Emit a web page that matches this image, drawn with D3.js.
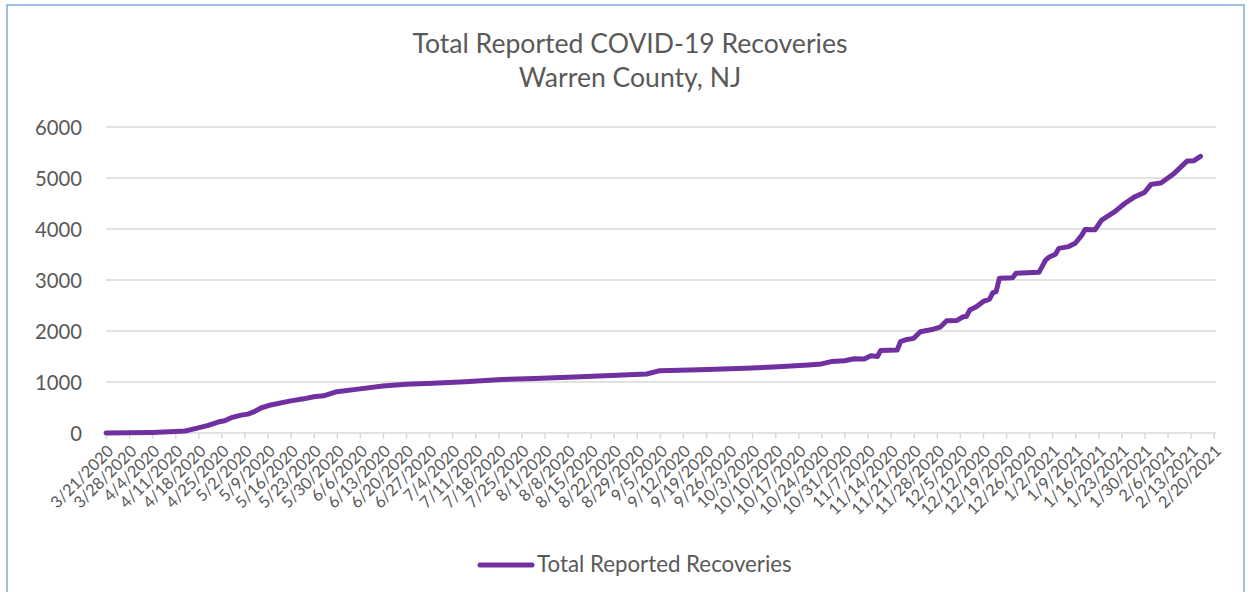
<!DOCTYPE html>
<html>
<head>
<meta charset="utf-8">
<script src="https://cdn.jsdelivr.net/npm/d3@7"></script>
<style>
  html, body { margin: 0; padding: 0; background: #fff; }
  svg { display: block; }
  text { font-family: Lato, "Open Sans", sans-serif; fill: #595959; }
</style>
</head>
<body>
<svg id="chart" width="1251" height="592"></svg>
<script>
// ---- data ----
const titleLines = ["Total Reported COVID-19 Recoveries", "Warren County, NJ"];
const seriesName = "Total Reported Recoveries";
const dates = [
  "2020-03-21","2020-03-28","2020-04-04","2020-04-11","2020-04-14","2020-04-18","2020-04-21","2020-04-24",
  "2020-04-26","2020-04-28","2020-05-01","2020-05-03","2020-05-05","2020-05-07","2020-05-10","2020-05-16",
  "2020-05-20","2020-05-23","2020-05-26","2020-05-30","2020-06-06","2020-06-13","2020-06-20","2020-06-28",
  "2020-07-08","2020-07-19","2020-07-29","2020-08-12","2020-08-23","2020-09-01","2020-09-05","2020-09-17",
  "2020-10-01","2020-10-11","2020-10-20","2020-10-24","2020-10-27","2020-10-31","2020-11-03","2020-11-06",
  "2020-11-08","2020-11-10","2020-11-11","2020-11-16","2020-11-17","2020-11-19","2020-11-21","2020-11-23",
  "2020-11-27","2020-11-29","2020-12-01","2020-12-04","2020-12-06","2020-12-07","2020-12-08","2020-12-10",
  "2020-12-12","2020-12-14","2020-12-15","2020-12-16","2020-12-17","2020-12-21","2020-12-22","2020-12-29",
  "2020-12-31","2021-01-01","2021-01-03","2021-01-04","2021-01-07","2021-01-09","2021-01-11","2021-01-12",
  "2021-01-15","2021-01-17","2021-01-21","2021-01-24","2021-01-27","2021-01-30","2021-02-01","2021-02-04",
  "2021-02-08","2021-02-12","2021-02-14","2021-02-16"
];
const recoveries = [
  0, 3, 12, 30, 40, 100, 150, 215,
  240, 300, 350, 370, 420, 490, 550, 630,
  670, 712, 730, 810, 865, 920, 955, 975,
  1005, 1050, 1070, 1105, 1130, 1157, 1222, 1240,
  1268, 1300, 1335, 1355, 1400, 1418, 1455, 1450,
  1515, 1500, 1620, 1627, 1790, 1835, 1856, 1985,
  2035, 2075, 2200, 2205, 2280, 2285, 2410, 2475,
  2575, 2625, 2750, 2770, 3035, 3045, 3130, 3150,
  3390, 3445, 3505, 3620, 3655, 3720, 3880, 3990,
  3985, 4175, 4340, 4500, 4630, 4715, 4875, 4900,
  5090, 5335, 5340, 5425
];
const yTicks = [0, 1000, 2000, 3000, 4000, 5000, 6000];
const xTickLabels = [
  "3/21/2020","3/28/2020","4/4/2020","4/11/2020","4/18/2020","4/25/2020","5/2/2020","5/9/2020",
  "5/16/2020","5/23/2020","5/30/2020","6/6/2020","6/13/2020","6/20/2020","6/27/2020","7/4/2020",
  "7/11/2020","7/18/2020","7/25/2020","8/1/2020","8/8/2020","8/15/2020","8/22/2020","8/29/2020",
  "9/5/2020","9/12/2020","9/19/2020","9/26/2020","10/3/2020","10/10/2020","10/17/2020","10/24/2020",
  "10/31/2020","11/7/2020","11/14/2020","11/21/2020","11/28/2020","12/5/2020","12/12/2020","12/19/2020",
  "12/26/2020","1/2/2021","1/9/2021","1/16/2021","1/23/2021","1/30/2021","2/6/2021","2/13/2021","2/20/2021"
];

// ---- drawing ----
const svg = d3.select("#chart");
const parseISO = d3.timeParse("%Y-%m-%d");
const parseLbl = d3.timeParse("%m/%d/%Y");
const points = dates.map((d, i) => ({ date: parseISO(d), value: recoveries[i] }));
const tickDates = xTickLabels.map(s => parseLbl(s));

const plot = { left: 106, lastTick: 1213.7, right: 1216, top: 127, bottom: 433 };

const x = d3.scaleTime()
  .domain([tickDates[0], tickDates[tickDates.length - 1]])
  .range([plot.left, plot.lastTick]);
const y = d3.scaleLinear().domain([0, 6000]).range([plot.bottom, plot.top]);

// frame
svg.append("rect")
  .attr("x", 7).attr("y", 5).attr("width", 1237).attr("height", 620)
  .attr("fill", "none").attr("stroke", "#7eaadf").attr("stroke-width", 1.5);

// helper to fit font size to a measured width
function fit(sel, targetWidth) {
  sel.style("font-size", "100px");
  const w = sel.node().getComputedTextLength();
  sel.style("font-size", (100 * targetWidth / w) + "px");
}

// title
const t1 = svg.append("text").attr("x", 630).attr("y", 53).attr("text-anchor", "middle").text(titleLines[0]);
fit(t1, 435);
const t2 = svg.append("text").attr("x", 630).attr("y", 87).attr("text-anchor", "middle").text(titleLines[1]);
t2.style("font-size", t1.style("font-size"));

// gridlines
svg.append("g").selectAll("line").data(yTicks.filter(v => v > 0)).join("line")
  .attr("x1", plot.left).attr("x2", plot.right)
  .attr("y1", d => y(d)).attr("y2", d => y(d))
  .attr("stroke", "#d9d9d9").attr("stroke-width", 1.5);

// y axis labels
const yAxis = d3.axisLeft(y).tickValues(yTicks).tickSize(0).tickPadding(0).tickFormat(d3.format("d"));
const yg = svg.append("g").attr("transform", "translate(82,0)").call(yAxis);
yg.select(".domain").remove();
yg.selectAll("text").attr("fill", "#595959").style("font-family", "Lato, 'Open Sans', sans-serif");
const probe = yg.selectAll("text").filter(d => d === 6000);
probe.style("font-size", "100px");
const yfs = 100 * 47 / probe.node().getComputedTextLength();
yg.selectAll("text").style("font-size", yfs + "px").attr("dy", "0.35em");

// x axis
const xAxis = d3.axisBottom(x).tickValues(tickDates).tickSize(6).tickFormat((d, i) => xTickLabels[i]);
const xg = svg.append("g").attr("transform", `translate(0,${plot.bottom})`).call(xAxis);
xg.select(".domain").attr("d", `M${plot.left},0H${plot.right}`).attr("stroke", "#d9d9d9").attr("stroke-width", 1.5);
xg.selectAll(".tick line").attr("stroke", "#d9d9d9").attr("stroke-width", 1.5);
const xt = xg.selectAll(".tick text");
const xprobe = xt.filter((d, i) => i === 0);
xprobe.style("font-size", "100px");
const xfs = 100 * 81 / xprobe.node().getComputedTextLength();
xt.attr("fill", "#595959")
  .style("font-family", "Lato, 'Open Sans', sans-serif")
  .style("font-size", xfs + "px")
  .attr("text-anchor", "end")
  .attr("y", 0).attr("dy", "0.35em")
  .attr("transform", "translate(4,15) rotate(-45)");

// line
const line = d3.line().x(d => x(d.date)).y(d => y(d.value));
svg.append("path").datum(points)
  .attr("d", line)
  .attr("fill", "none").attr("stroke", "#7030a0")
  .attr("stroke-width", 5).attr("stroke-linejoin", "round").attr("stroke-linecap", "round");

// legend
svg.append("line").attr("x1", 480).attr("x2", 532).attr("y1", 565).attr("y2", 565)
  .attr("stroke", "#7030a0").attr("stroke-width", 5).attr("stroke-linecap", "round");
const lt = svg.append("text").attr("x", 537).attr("y", 572).text(seriesName);
fit(lt, 255);
</script>
</body>
</html>
